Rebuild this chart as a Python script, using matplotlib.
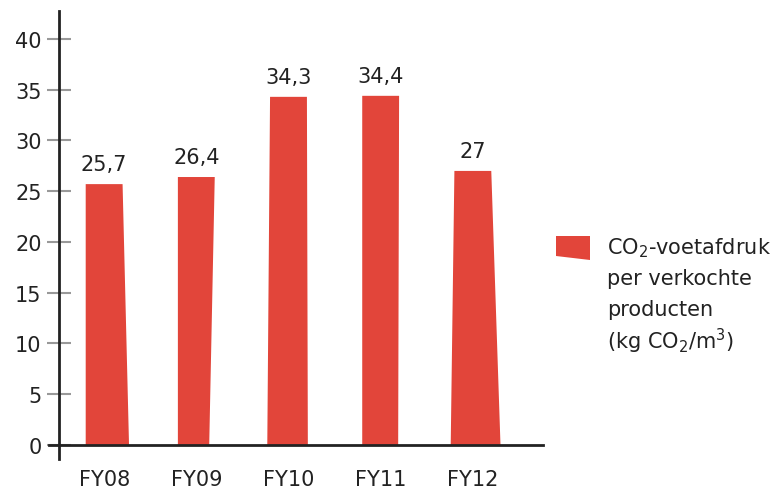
import matplotlib.pyplot as plt
from matplotlib.patches import Polygon

# CO2 footprint per product sold, per fiscal year
years = ["FY08", "FY09", "FY10", "FY11", "FY12"]
footprint = [25.7, 26.4, 34.3, 34.4, 27.0]

RED = "#e2453a"
TEXT = "#222222"

# hand-cut look of the bars: (left, right) shift of the bottom corners in x units
skew = [(0.0, 0.07), (0.0, -0.06), (-0.03, 0.01), (0.0, -0.01), (-0.04, 0.10)]
bar_w = 0.40

fig = plt.figure(figsize=(7.78, 4.89), dpi=100)
ax = fig.add_axes([0.0758, 0.059, 0.622, 0.9165])

for i, (val, (dl, dr)) in enumerate(zip(footprint, skew)):
    x0, x1 = i - bar_w / 2, i + bar_w / 2
    pts = [(x0 + dl, 0), (x1 + dr, 0), (x1, val), (x0, val)]
    ax.add_patch(Polygon(pts, closed=True, facecolor=RED, edgecolor="none"))
    label = f"{val:g}".replace(".", ",")
    ax.annotate(label, (i, val), xytext=(0, 7), textcoords="offset points",
                ha="center", va="bottom", fontsize=15, color=TEXT)

ax.set_xlim(-0.49, 4.76)
ax.set_ylim(-1.4, 42.76)
ax.axhline(0, color=TEXT, lw=2, xmin=-0.02, clip_on=False)

ax.set_yticks(range(0, 45, 5))
ax.set_xticks(range(len(years)))
ax.set_xticklabels(years)
ax.tick_params(axis="y", direction="inout", length=17, width=1.5,
               color="#999999", labelsize=15, labelcolor=TEXT, pad=4)
ax.tick_params(axis="x", length=0, labelsize=15, labelcolor=TEXT, pad=7)

for side in ["top", "right", "bottom"]:
    ax.spines[side].set_visible(False)
ax.spines["left"].set_color(TEXT)
ax.spines["left"].set_linewidth(2)

# legend, built by hand to the right of the plot
W, H = 778, 489
swatch = [(556, 237), (590, 237), (590, 261), (556, 257)]
fig.patches.append(Polygon([(x / W, 1 - y / H) for x, y in swatch],
                           closed=True, facecolor=RED, edgecolor="none",
                           transform=fig.transFigure))
legend_lines = [r"CO$_2$-voetafdruk", "per verkochte", "producten",
                r"(kg CO$_2$/m$^3$)"]
for k, line in enumerate(legend_lines):
    fig.text(607 / W, 1 - (248 + 31 * k) / H, line, fontsize=15,
             color=TEXT, va="center", ha="left")

fig.savefig("out.png", dpi=100)
